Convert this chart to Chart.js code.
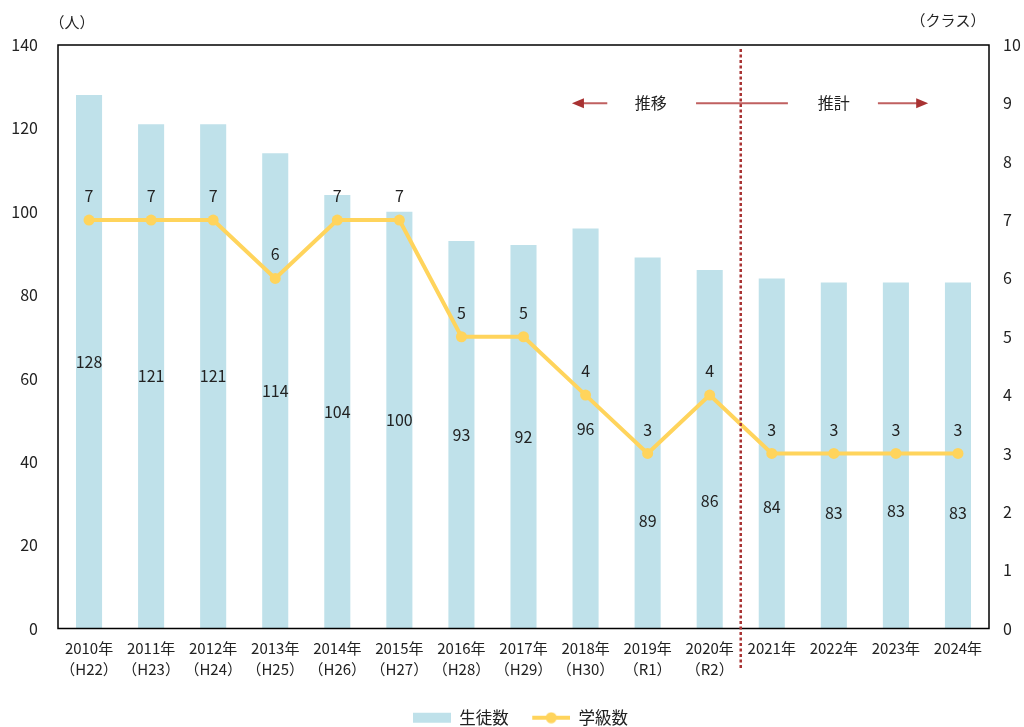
<!DOCTYPE html>
<html lang="ja">
<head>
<meta charset="utf-8">
<script src="https://cdn.jsdelivr.net/npm/chart.js@4"></script>
<style>
  html, body { margin: 0; padding: 0; background: #fff; }
  #wrap { width: 1024px; height: 727px; }
</style>
</head>
<body>
<div id="wrap"><canvas id="chart" width="1024" height="727"></canvas></div>
<script>
// --- data ---
const years = [
  ['2010年', '（H22）'], ['2011年', '（H23）'], ['2012年', '（H24）'], ['2013年', '（H25）'],
  ['2014年', '（H26）'], ['2015年', '（H27）'], ['2016年', '（H28）'], ['2017年', '（H29）'],
  ['2018年', '（H30）'], ['2019年', '（R1）'], ['2020年', '（R2）'],
  '2021年', '2022年', '2023年', '2024年'
];
const students = [128, 121, 121, 114, 104, 100, 93, 92, 96, 89, 86, 84, 83, 83, 83];
const classes = [7, 7, 7, 6, 7, 7, 5, 5, 4, 3, 4, 3, 3, 3, 3];
const leftTicks = [0, 20, 40, 60, 80, 100, 120, 140];
const rightTicks = [0, 1, 2, 3, 4, 5, 6, 7, 8, 9, 10];

// bar labels that sit under the line are nudged down (px from bar middle)
const barLabelShift = [0, 0, 0, 0, 0, 0, 0, 0, 0, 78, 52, 53, 57, 55, 57];

const FONT = '"Noto Sans CJK JP", "Noto Sans", sans-serif';
const BAR_COLOR = '#BFE1EA';
const LINE_COLOR = '#FFD45C';
const RED = '#A83232';
const ICON_GAP = 17; // blank space left of each legend mark

// legend marks as small canvases
function makeBoxIcon() {
  const c = document.createElement('canvas');
  c.width = 38 + ICON_GAP; c.height = 12;
  const g = c.getContext('2d');
  g.fillStyle = BAR_COLOR;
  g.fillRect(ICON_GAP, 1, 38, 10);
  return c;
}
function makeLineIcon() {
  const c = document.createElement('canvas');
  c.width = 38 + ICON_GAP; c.height = 12;
  const g = c.getContext('2d');
  g.strokeStyle = LINE_COLOR; g.lineWidth = 4;
  g.beginPath(); g.moveTo(ICON_GAP, 6); g.lineTo(ICON_GAP + 38, 6); g.stroke();
  g.fillStyle = LINE_COLOR;
  g.beginPath(); g.arc(ICON_GAP + 19, 6, 5.5, 0, Math.PI * 2); g.fill();
  return c;
}
const legendIcons = [makeBoxIcon(), makeLineIcon()];

// frame, axis units, divider, arrows, value labels
const extrasPlugin = {
  id: 'extras',
  afterDatasetsDraw(chart) {
    const ctx = chart.ctx;
    const a = chart.chartArea;
    const x = chart.scales.x;
    const y1 = chart.scales.y1;
    ctx.save();

    // value labels
    ctx.font = '16px ' + FONT;
    ctx.fillStyle = '#222';
    ctx.textAlign = 'center';
    ctx.textBaseline = 'middle';
    chart.getDatasetMeta(0).data.forEach((bar, i) => {
      ctx.fillText(String(students[i]), bar.x, (bar.y + bar.base) / 2 + barLabelShift[i]);
    });
    chart.getDatasetMeta(1).data.forEach((pt, i) => {
      ctx.fillText(String(classes[i]), pt.x, pt.y - 24);
    });

    // frame
    ctx.strokeStyle = '#000';
    ctx.lineWidth = 1.5;
    ctx.strokeRect(a.left, a.top, a.right - a.left, a.bottom - a.top);

    // unit labels
    ctx.font = '15px ' + FONT;
    ctx.fillStyle = '#222';
    ctx.textAlign = 'center';
    ctx.fillText('（人）', 72, 22);
    ctx.fillText('（クラス）', 948, 20);

    // divider between actual and estimate
    const divX = (x.getPixelForValue(10) + x.getPixelForValue(11)) / 2;
    ctx.strokeStyle = RED;
    ctx.lineWidth = 2.5;
    ctx.setLineDash([3, 2.5]);
    ctx.beginPath();
    ctx.moveTo(divX, a.top + 4);
    ctx.lineTo(divX, 668);
    ctx.stroke();
    ctx.setLineDash([]);

    // arrows row at 9 on right axis
    const ay = y1.getPixelForValue(9);
    const px = v => x.getPixelForValue(v);
    ctx.strokeStyle = '#C06060';
    ctx.lineWidth = 2;
    ctx.beginPath();
    ctx.moveTo(px(7.86), ay); ctx.lineTo(px(8.35), ay);
    ctx.moveTo(px(9.78), ay); ctx.lineTo(px(11.26), ay);
    ctx.moveTo(px(12.71), ay); ctx.lineTo(px(13.42), ay);
    ctx.stroke();
    ctx.fillStyle = RED;
    ctx.beginPath();
    ctx.moveTo(px(7.78), ay); ctx.lineTo(px(7.78) + 12, ay - 5); ctx.lineTo(px(7.78) + 12, ay + 5); ctx.closePath();
    ctx.fill();
    ctx.beginPath();
    ctx.moveTo(px(13.52), ay); ctx.lineTo(px(13.52) - 12, ay - 5); ctx.lineTo(px(13.52) - 12, ay + 5); ctx.closePath();
    ctx.fill();
    ctx.font = '16px ' + FONT;
    ctx.fillStyle = '#222';
    ctx.fillText('推移', px(9.05), ay);
    ctx.fillText('推計', px(12.0), ay);

    ctx.restore();
  }
};

const chart = new Chart(document.getElementById('chart'), {
  data: {
    labels: years,
    datasets: [
      {
        type: 'bar',
        label: '生徒数',
        data: students,
        yAxisID: 'y',
        backgroundColor: BAR_COLOR,
        categoryPercentage: 1,
        barPercentage: 0.42,
        order: 2
      },
      {
        type: 'line',
        label: '学級数',
        data: classes,
        yAxisID: 'y1',
        borderColor: LINE_COLOR,
        backgroundColor: LINE_COLOR,
        borderWidth: 4,
        pointRadius: 5.5,
        pointBackgroundColor: LINE_COLOR,
        pointBorderWidth: 0,
        tension: 0,
        order: 1
      }
    ]
  },
  options: {
    responsive: false,
    animation: false,
    layout: { padding: { top: 45, left: 0, right: 0, bottom: -9 } },
    plugins: {
      tooltip: { enabled: false },
      legend: {
        position: 'bottom',
        labels: {
          usePointStyle: true,
          pointStyleWidth: 38 + ICON_GAP,
          boxHeight: 12,
          padding: 6.5,
          color: '#222',
          font: { family: FONT, size: 16.5 },
          generateLabels(chart) {
            const items = Chart.defaults.plugins.legend.labels.generateLabels(chart);
            items.forEach(it => { it.pointStyle = legendIcons[it.datasetIndex]; });
            return items;
          },
          sort: (a, b) => a.datasetIndex - b.datasetIndex
        }
      }
    },
    scales: {
      x: {
        grid: { display: false, drawTicks: false },
        border: { display: false },
        ticks: {
          color: '#222',
          padding: 10,
          maxRotation: 0,
          autoSkip: false,
          font: { family: FONT, size: 15, lineHeight: 1.35 }
        },
        afterFit(scale) { scale.height = 74.5; }
      },
      y: {
        position: 'left',
        min: 0, max: 140,
        grid: { display: false, drawTicks: false },
        border: { display: false },
        afterBuildTicks(scale) { scale.ticks = leftTicks.map(v => ({ value: v })); },
        ticks: { color: '#222', padding: 20, font: { family: FONT, size: 16 } },
        afterFit(scale) { scale.width = 58; }
      },
      y1: {
        position: 'right',
        min: 0, max: 10,
        grid: { display: false, drawTicks: false },
        border: { display: false },
        afterBuildTicks(scale) { scale.ticks = rightTicks.map(v => ({ value: v })); },
        ticks: { color: '#222', padding: 14, font: { family: FONT, size: 16 } },
        afterFit(scale) { scale.width = 35; }
      }
    }
  },
  plugins: [extrasPlugin]
});
</script>
</body>
</html>
